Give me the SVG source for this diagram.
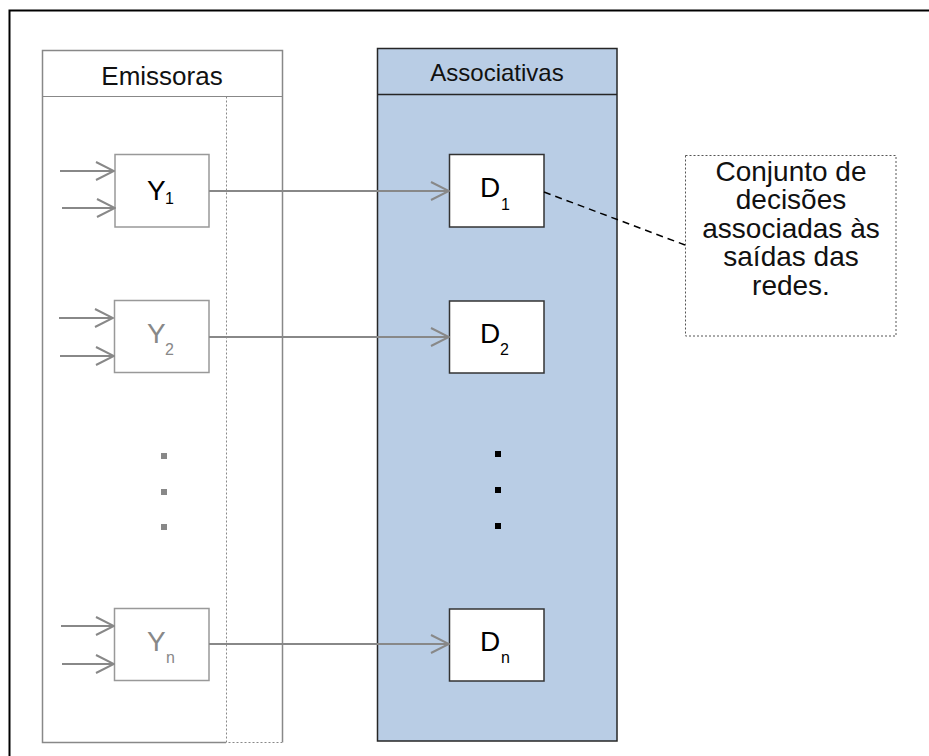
<svg xmlns="http://www.w3.org/2000/svg" width="929" height="756" viewBox="0 0 929 756">
<style>
text{font-family:"Liberation Sans",Arial,sans-serif}
.ybox{fill:#fff;stroke:#999;stroke-width:1.5}
.dbox{fill:#fff;stroke:#333;stroke-width:1.5}
.big{font-size:28px}
.sub{font-size:16px}
.blk{fill:#000}
.gry{fill:#888}
.conn{stroke:#888;stroke-width:2;fill:none}
.hdr{font-size:25px;text-anchor:middle;fill:#111}
.note{font-size:28px;text-anchor:middle;fill:#111}
</style>
<defs>
<marker id="ah" viewBox="0 0 20 20" refX="19" refY="10" markerWidth="20" markerHeight="20" markerUnits="userSpaceOnUse" orient="auto">
<path d="M1,1 L19,10 L1,19" fill="none" stroke="#888" stroke-width="2"/>
</marker>
</defs>
<rect x="0" y="0" width="929" height="756" fill="#fff"/>
<rect x="9.5" y="10.5" width="1000" height="900" fill="none" stroke="#000" stroke-width="2"/>

<g id="emissoras">
<path d="M226,742.5 L42.5,742.5 L42.5,50.5 L282.5,50.5 L282.5,742.5" fill="none" stroke="#888" stroke-width="1.5"/>
<line x1="42.5" y1="96.5" x2="282.5" y2="96.5" stroke="#888" stroke-width="1.2"/>
<path d="M226.5,96.5 L226.5,742.5 L282,742.5" fill="none" stroke="#888" stroke-width="1" stroke-dasharray="2 2"/>
<text class="hdr" x="162" y="85" style="font-size:26px">Emissoras</text>
</g>

<g id="associativas">
<rect x="377.5" y="48.5" width="239.5" height="692.5" fill="#b9cde5" stroke="#262626" stroke-width="1.5"/>
<line x1="377.5" y1="94.5" x2="617" y2="94.5" stroke="#262626" stroke-width="1.5"/>
<text class="hdr" x="497" y="81" style="font-size:24px">Associativas</text>
</g>

<g id="Y1">
<rect class="ybox" x="115" y="154.5" width="94" height="72.5"/>
<text class="big blk" x="147" y="200">Y</text><text class="sub blk" x="165" y="204">1</text>
</g>
<g id="Y2">
<rect class="ybox" x="114.5" y="300.5" width="94.5" height="72"/>
<text class="big gry" x="147" y="343">Y</text><text class="sub gry" x="165" y="355">2</text>
</g>
<g id="Yn">
<rect class="ybox" x="114.5" y="608.5" width="94.5" height="72"/>
<text class="big gry" x="147" y="651">Y</text><text class="sub gry" x="166" y="663">n</text>
</g>

<g id="D1">
<rect class="dbox" x="449.5" y="154.5" width="94.5" height="72.5"/>
<text class="big blk" x="480" y="197">D</text><text class="sub blk" x="501" y="210">1</text>
</g>
<g id="D2">
<rect class="dbox" x="449.5" y="301" width="94.5" height="72"/>
<text class="big blk" x="480" y="343">D</text><text class="sub blk" x="500" y="355">2</text>
</g>
<g id="Dn">
<rect class="dbox" x="449.5" y="609" width="94.5" height="72"/>
<text class="big blk" x="480" y="651">D</text><text class="sub blk" x="501" y="663">n</text>
</g>

<g id="dots">
<rect x="161" y="453" width="6" height="6" fill="#888"/>
<rect x="161" y="489" width="6" height="6" fill="#888"/>
<rect x="161" y="524" width="6" height="6" fill="#888"/>
<rect x="495" y="451" width="6" height="6" fill="#000"/>
<rect x="495" y="487" width="6" height="6" fill="#000"/>
<rect x="495" y="523" width="6" height="6" fill="#000"/>
</g>

<g id="note">
<rect x="685.5" y="155.5" width="210.5" height="180.5" fill="#fff" stroke="#555" stroke-width="1" stroke-dasharray="2 2"/>
<text class="note" x="791" y="181">Conjunto de</text>
<text class="note" x="791" y="209">decisões</text>
<text class="note" x="791" y="238">associadas às</text>
<text class="note" x="791" y="266">saídas das</text>
<text class="note" x="791" y="295">redes.</text>
</g>

<g id="connectors">
<line class="conn" x1="60" y1="171" x2="114" y2="171" marker-end="url(#ah)"/>
<line class="conn" x1="62" y1="208" x2="115" y2="208" marker-end="url(#ah)"/>
<line class="conn" x1="59" y1="318" x2="113" y2="318" marker-end="url(#ah)"/>
<line class="conn" x1="60" y1="356" x2="114" y2="356" marker-end="url(#ah)"/>
<line class="conn" x1="61" y1="626" x2="114" y2="626" marker-end="url(#ah)"/>
<line class="conn" x1="62" y1="664" x2="114" y2="664" marker-end="url(#ah)"/>
<line class="conn" x1="209" y1="191" x2="449" y2="191" marker-end="url(#ah)"/>
<line class="conn" x1="209" y1="337" x2="449" y2="337" marker-end="url(#ah)"/>
<line class="conn" x1="209" y1="644" x2="449" y2="644" marker-end="url(#ah)"/>
<line x1="544" y1="192" x2="685" y2="245" stroke="#000" stroke-width="1.5" stroke-dasharray="7 5"/>
</g>
</svg>
